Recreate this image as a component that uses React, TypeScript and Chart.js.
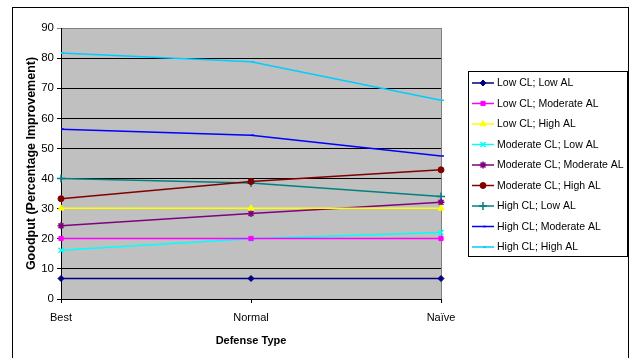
import React, { useEffect, useRef } from 'react';
import { Chart, registerables } from 'chart.js';
import { drawPoint } from 'chart.js/helpers';

Chart.register(...registerables);

// ---- data ----
const categories = ['Best', 'Normal', 'Naïve'];
const yMin = 0;
const yMax = 90;
const yStep = 10;

const seriesNames = [
  'Low CL; Low AL',
  'Low CL; Moderate AL',
  'Low CL; High AL',
  'Moderate CL; Low AL',
  'Moderate CL; Moderate AL',
  'Moderate CL; High AL',
  'High CL; Low AL',
  'High CL; Moderate AL',
  'High CL; High AL',
];

const lowCLLowAL = [6.8, 6.8, 6.8];
const lowCLModerateAL = [20.1, 20.1, 20.1];
const lowCLHighAL = [30.1, 30.1, 30.1];
const moderateCLLowAL = [16.2, 20.0, 22.1];
const moderateCLModerateAL = [24.3, 28.4, 32.1];
const moderateCLHighAL = [33.3, 39.0, 42.9];
const highCLLowAL = [40.0, 38.5, 34.0];
const highCLModerateAL = [56.4, 54.4, 47.5];
const highCLHighAL = [81.7, 78.8, 66.0];

const seriesValues = [
  lowCLLowAL,
  lowCLModerateAL,
  lowCLHighAL,
  moderateCLLowAL,
  moderateCLModerateAL,
  moderateCLHighAL,
  highCLLowAL,
  highCLModerateAL,
  highCLHighAL,
];

// ---- styles ----
const seriesColors = [
  '#000080',
  '#FF00FF',
  '#FFFF00',
  '#00FFFF',
  '#800080',
  '#800000',
  '#008080',
  '#0000FF',
  '#00CCFF',
];
const seriesPointStyles = [
  'rectRot',
  'rect',
  'triangle',
  'crossRot',
  'star',
  'circle',
  'cross',
  'dash',
  'dash',
];
const seriesPointRadius = [3, 3, 3.5, 3.5, 3.5, 3, 4, 3, 3];
const filledStyles = new Set(['rectRot', 'rect', 'triangle', 'circle']);

const FONT = "'Liberation Sans', Arial, sans-serif";

const framePlugin = {
  id: 'excelFrame',
  beforeDraw(chart: any) {
    const { ctx, chartArea: a } = chart;
    ctx.save();
    ctx.fillStyle = '#ffffff';
    ctx.fillRect(0, 0, chart.width, chart.height);
    ctx.fillStyle = '#C0C0C0';
    ctx.fillRect(a.left, a.top, a.right - a.left, a.bottom - a.top);
    ctx.restore();
  },
  beforeDatasetsDraw(chart: any) {
    const { ctx, chartArea: a } = chart;
    ctx.save();
    ctx.strokeStyle = '#808080';
    ctx.lineWidth = 1;
    ctx.beginPath();
    ctx.moveTo(Math.round(a.right) + 0.5, a.top);
    ctx.lineTo(Math.round(a.right) + 0.5, a.bottom);
    ctx.stroke();
    ctx.restore();
  },
  afterDraw(chart: any) {
    const { ctx } = chart;
    ctx.save();
    // outer border
    ctx.strokeStyle = '#000';
    ctx.lineWidth = 1;
    ctx.strokeRect(12.5, 7.5, 616, 400);
    // legend box
    ctx.strokeRect(468.5, 71.5, 159, 185);
    chart.data.datasets.forEach((ds: any, i: number) => {
      const y = 83 + i * 20.5;
      ctx.strokeStyle = ds.borderColor;
      ctx.lineWidth = 1.5;
      ctx.beginPath();
      ctx.moveTo(472, y);
      ctx.lineTo(494, y);
      ctx.stroke();
      ctx.fillStyle = ds.pointBackgroundColor;
      ctx.strokeStyle = ds.pointBorderColor;
      ctx.lineWidth = ds.pointBorderWidth;
      drawPoint(ctx, { pointStyle: ds.pointStyle, radius: ds.pointRadius, borderWidth: ds.pointBorderWidth, rotation: 0 } as any, 483, y);
      ctx.fillStyle = '#000';
      ctx.font = `10.5px ${FONT}`;
      ctx.textBaseline = 'middle';
      ctx.textAlign = 'left';
      ctx.fillText(ds.label, 497, y + 0.5);
    });
    ctx.restore();
  },
};

export default function App() {
  const ref = useRef<HTMLCanvasElement | null>(null);

  useEffect(() => {
    if (!ref.current) return;
    const datasets = seriesNames.map((name, i) => {
      const style = seriesPointStyles[i];
      const filled = filledStyles.has(style);
      return {
        label: name,
        data: seriesValues[i],
        borderColor: seriesColors[i],
        backgroundColor: seriesColors[i],
        borderWidth: 1.5,
        tension: 0,
        pointStyle: style,
        pointRadius: seriesPointRadius[i],
        pointHoverRadius: seriesPointRadius[i],
        pointBackgroundColor: filled ? seriesColors[i] : 'rgba(0,0,0,0)',
        pointBorderColor: seriesColors[i],
        pointBorderWidth: filled ? 1 : 1.5,
        clip: false as any,
      };
    });

    const chart = new Chart(ref.current, {
      type: 'line',
      data: { labels: categories, datasets },
      plugins: [framePlugin],
      options: {
        responsive: false,
        animation: false,
        layout: { padding: { left: 0, right: 190, top: 28, bottom: 0 } },
        plugins: {
          legend: { display: false },
          tooltip: { enabled: false },
        },
        scales: {
          x: {
            type: 'category',
            offset: false,
            afterFit: (s: any) => {
              s.height = 59;
            },
            grid: {
              drawOnChartArea: false,
              drawTicks: true,
              tickLength: 4,
              color: '#000',
            },
            border: { display: true, color: '#000', width: 1 },
            ticks: {
              color: '#000',
              font: { family: FONT, size: 11 },
              padding: 8,
              maxRotation: 0,
            },
            title: {
              display: true,
              text: 'Defense Type',
              color: '#000',
              font: { family: FONT, size: 11, weight: 'bold' },
              padding: { top: 0, bottom: 10 },
            },
          },
          y: {
            min: yMin,
            max: yMax,
            afterFit: (s: any) => {
              s.width = 61;
            },
            grid: {
              color: (c: any) => (c.tick && c.tick.value === yMax ? '#808080' : '#000'),
              drawTicks: true,
              tickLength: 4,
              lineWidth: 1,
            },
            border: { display: true, color: '#000', width: 1 },
            ticks: {
              stepSize: yStep,
              color: '#000',
              font: { family: FONT, size: 11.5 },
              padding: 3,
            },
            title: {
              display: true,
              text: 'Goodput (Percentage Improvement)',
              color: '#000',
              font: { family: FONT, size: 12.5, weight: 'bold' },
              padding: { top: 24.5, bottom: 0 },
            },
          },
        },
      },
    });
    return () => chart.destroy();
  }, []);

  return (
    <div style={{ position: 'fixed', left: 0, top: 0, width: 631, height: 358, background: '#fff' }}>
      <canvas ref={ref} width={631} height={358} style={{ display: 'block', width: 631, height: 358 }} />
    </div>
  );
}
